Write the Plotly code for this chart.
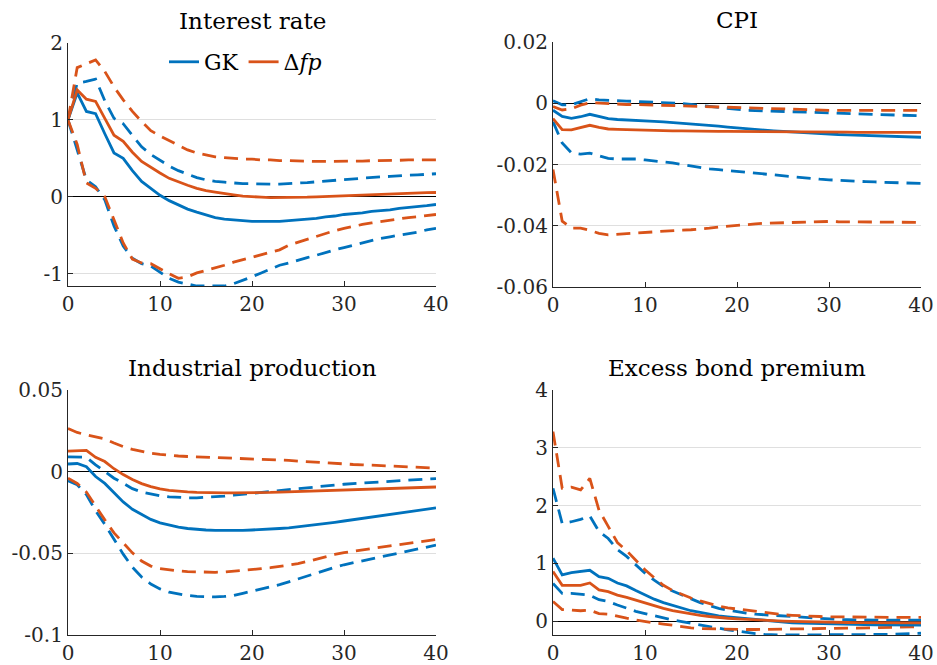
import plotly.graph_objects as go

# ---------------- data ----------------
horizon = list(range(41))

# Interest rate
ir_gk = [1.00, 1.35, 1.11, 1.08, 0.82, 0.57, 0.50, 0.34, 0.20, 0.11, 0.02, -0.05, -0.11, -0.16, -0.20, -0.24, -0.27,
         -0.29, -0.30, -0.31, -0.32, -0.32, -0.32, -0.32, -0.31, -0.30, -0.29, -0.28, -0.26, -0.25, -0.23, -0.22,
         -0.21, -0.19, -0.18, -0.17, -0.15, -0.14, -0.13, -0.115, -0.10]
ir_fp = [1.00, 1.39, 1.27, 1.24, 1.02, 0.80, 0.72, 0.58, 0.46, 0.38, 0.31, 0.24, 0.19, 0.15, 0.11, 0.08, 0.06, 0.04,
         0.025, 0.01, 0.0, -0.005, -0.01, -0.01, -0.01, -0.01, -0.005, 0.0, 0.005, 0.01, 0.015, 0.02, 0.025, 0.03,
         0.035, 0.04, 0.043, 0.047, 0.05, 0.053, 0.056]
ir_gk_hi = [1.00, 1.48, 1.50, 1.53, 1.25, 1.02, 0.95, 0.80, 0.65, 0.55, 0.47, 0.40, 0.34, 0.29, 0.25, 0.22, 0.20, 0.19,
            0.18, 0.17, 0.17, 0.165, 0.165, 0.165, 0.17, 0.175, 0.185, 0.195, 0.205, 0.215, 0.225, 0.23, 0.24, 0.25,
            0.26, 0.265, 0.275, 0.28, 0.285, 0.29, 0.30]
ir_gk_lo = [1.00, 0.60, 0.22, 0.13, -0.04, -0.38, -0.64, -0.80, -0.87, -0.90, -0.98, -1.06, -1.11, -1.14, -1.16,
            -1.16, -1.16, -1.16, -1.13, -1.09, -1.04, -0.99, -0.94, -0.89, -0.86, -0.82, -0.79, -0.76, -0.72, -0.69,
            -0.66, -0.63, -0.60, -0.57, -0.54, -0.52, -0.50, -0.48, -0.46, -0.43, -0.41]
ir_fp_hi = [1.00, 1.68, 1.73, 1.78, 1.63, 1.43, 1.26, 1.11, 0.98, 0.86, 0.79, 0.73, 0.66, 0.61, 0.57, 0.54, 0.52, 0.51,
            0.50, 0.49, 0.49, 0.48, 0.48, 0.47, 0.47, 0.465, 0.46, 0.46, 0.46, 0.46, 0.46, 0.46, 0.465, 0.47, 0.47,
            0.475, 0.475, 0.48, 0.48, 0.48, 0.48]
ir_fp_lo = [1.00, 0.68, 0.18, 0.11, 0.00, -0.30, -0.60, -0.81, -0.86, -0.87, -0.94, -1.00, -1.06, -1.04, -0.99, -0.96,
            -0.93, -0.89, -0.85, -0.82, -0.79, -0.76, -0.73, -0.69, -0.63, -0.59, -0.55, -0.51, -0.47, -0.44, -0.41,
            -0.38, -0.36, -0.34, -0.32, -0.30, -0.29, -0.27, -0.26, -0.245, -0.23]

# CPI
cpi_gk = [-0.0023, -0.0043, -0.0049, -0.0044, -0.0036, -0.0042, -0.0050, -0.0053, -0.0054, -0.0056, -0.0058, -0.0059,
          -0.0061, -0.0063, -0.0065, -0.0067, -0.0069, -0.0072, -0.0075, -0.0078, -0.0081, -0.0083, -0.0085, -0.0088,
          -0.0090, -0.0092, -0.0094, -0.0096, -0.0098, -0.0099, -0.0101, -0.0102, -0.0103, -0.0104, -0.0105, -0.0106,
          -0.0107, -0.0108, -0.0109, -0.0110, -0.0111]
cpi_fp = [-0.0050, -0.0086, -0.0087, -0.0080, -0.0072, -0.0079, -0.0084, -0.0085, -0.0086, -0.0088, -0.0089, -0.0090,
          -0.0090, -0.0090, -0.0090, -0.0091, -0.0091, -0.0091, -0.0092, -0.0092, -0.0092, -0.0092, -0.0093, -0.0093,
          -0.0093, -0.0093, -0.0093, -0.0094, -0.0094, -0.0094, -0.0094, -0.0094, -0.0094, -0.0095, -0.0095, -0.0095,
          -0.0095, -0.0095, -0.0095, -0.0095, -0.0095]
cpi_gk_hi = [0.0008, -0.0005, -0.0005, 0.0006, 0.0015, 0.0011, 0.0009, 0.0008, 0.0007, 0.0006, 0.0005, 0.0004, 0.0003,
             0.0001, -0.0001, -0.0004, -0.0007, -0.0010, -0.0014, -0.0018, -0.0021, -0.0023, -0.0024, -0.0025, -0.0026,
             -0.0028, -0.0029, -0.0030, -0.0031, -0.0032, -0.0033, -0.0034, -0.0035, -0.0036, -0.0036, -0.0037,
             -0.0038, -0.0039, -0.0039, -0.0040, -0.0041]
cpi_gk_lo = [-0.0060, -0.0130, -0.0162, -0.0166, -0.0163, -0.0172, -0.0180, -0.0182, -0.0181, -0.0182, -0.0185,
             -0.0188, -0.0191, -0.0195, -0.0200, -0.0205, -0.0210, -0.0214, -0.0217, -0.0220, -0.0223, -0.0226,
             -0.0229, -0.0232, -0.0235, -0.0237, -0.0240, -0.0243, -0.0246, -0.0248, -0.0250, -0.0252, -0.0254,
             -0.0255, -0.0256, -0.0257, -0.0258, -0.0259, -0.0260, -0.0261, -0.0262]
cpi_fp_hi = [-0.0011, -0.0022, -0.0018, -0.0006, 0.0002, 0.0000, -0.0002, -0.0003, -0.0004, -0.0004, -0.0005, -0.0006,
             -0.0006, -0.0007, -0.0007, -0.0008, -0.0009, -0.0010, -0.0011, -0.0012, -0.0013, -0.0015, -0.0016,
             -0.0017, -0.0018, -0.0020, -0.0021, -0.0021, -0.0022, -0.0022, -0.0023, -0.0023, -0.0023, -0.0023,
             -0.0023, -0.0023, -0.0023, -0.0023, -0.0023, -0.0023, -0.0023]
cpi_fp_lo = [-0.0216, -0.0385, -0.0408, -0.0408, -0.0415, -0.0425, -0.0430, -0.0428, -0.0424, -0.0422, -0.0420,
             -0.0418, -0.0417, -0.0415, -0.0414, -0.0413, -0.0411, -0.0408, -0.0404, -0.0401, -0.0398, -0.0396,
             -0.0394, -0.0392, -0.0391, -0.0390, -0.0389, -0.0388, -0.0387, -0.0387, -0.0386, -0.0387, -0.0387,
             -0.0388, -0.0388, -0.0388, -0.0389, -0.0389, -0.0389, -0.0389, -0.0389]

# Industrial production
ip_gk = [0.0047, 0.0050, 0.0030, -0.0030, -0.0072, -0.0130, -0.0185, -0.0230, -0.0263, -0.0292, -0.0313, -0.0328,
         -0.0340, -0.0348, -0.0354, -0.0357, -0.0359, -0.0360, -0.0360, -0.0359, -0.0357, -0.0355, -0.0352, -0.0348,
         -0.0344, -0.0338, -0.0332, -0.0325, -0.0318, -0.0310, -0.0302, -0.0294, -0.0286, -0.0278, -0.0270, -0.0262,
         -0.0254, -0.0246, -0.0238, -0.0230, -0.0222]
ip_fp = [0.0126, 0.0126, 0.0130, 0.0088, 0.0062, 0.0018, -0.0018, -0.0048, -0.0073, -0.0092, -0.0106, -0.0114, -0.0120,
         -0.0124, -0.0127, -0.0129, -0.0130, -0.0130, -0.0130, -0.0130, -0.0129, -0.0128, -0.0127, -0.0125, -0.0123,
         -0.0121, -0.0119, -0.0117, -0.0115, -0.0113, -0.0111, -0.0109, -0.0107, -0.0105, -0.0103, -0.0101, -0.0099,
         -0.0098, -0.0096, -0.0095, -0.0094]
ip_gk_hi = [0.0091, 0.0091, 0.0088, 0.0042, 0.0000, -0.0040, -0.0071, -0.0104, -0.0124, -0.0138, -0.0148, -0.0154,
            -0.0158, -0.0160, -0.0160, -0.0158, -0.0155, -0.0150, -0.0144, -0.0138, -0.0132, -0.0126, -0.0120, -0.0114,
            -0.0108, -0.0102, -0.0097, -0.0092, -0.0087, -0.0082, -0.0077, -0.0073, -0.0069, -0.0065, -0.0061, -0.0057,
            -0.0054, -0.0051, -0.0048, -0.0045, -0.0042]
ip_gk_lo = [-0.0055, -0.0080, -0.0140, -0.0240, -0.0322, -0.0415, -0.0505, -0.0585, -0.0645, -0.0688, -0.0718, -0.0738,
            -0.0750, -0.0758, -0.0763, -0.0766, -0.0767, -0.0764, -0.0758, -0.0745, -0.0732, -0.0720, -0.0707, -0.0692,
            -0.0675, -0.0657, -0.0638, -0.0619, -0.0600, -0.0585, -0.0570, -0.0558, -0.0547, -0.0535, -0.0523, -0.0512,
            -0.0500, -0.0487, -0.0475, -0.0462, -0.0450]
ip_fp_hi = [0.0264, 0.0240, 0.0225, 0.0213, 0.0200, 0.0175, 0.0153, 0.0137, 0.0123, 0.0113, 0.0106, 0.0100, 0.0096,
            0.0093, 0.0091, 0.0089, 0.0087, 0.0086, 0.0085, 0.0083, 0.0081, 0.0078, 0.0075, 0.0072, 0.0069, 0.0065,
            0.0061, 0.0057, 0.0053, 0.0049, 0.0046, 0.0044, 0.0042, 0.0040, 0.0038, 0.0036, 0.0033, 0.0030, 0.0027,
            0.0025, 0.0022]
ip_fp_lo = [-0.0040, -0.0072, -0.0125, -0.0213, -0.0295, -0.0375, -0.0437, -0.0497, -0.0547, -0.0578, -0.0593, -0.0602,
            -0.0608, -0.0612, -0.0614, -0.0615, -0.0616, -0.0614, -0.0610, -0.0605, -0.0600, -0.0594, -0.0588, -0.0581,
            -0.0573, -0.0563, -0.0550, -0.0535, -0.0520, -0.0507, -0.0496, -0.0487, -0.0478, -0.0469, -0.0461, -0.0454,
            -0.0447, -0.0440, -0.0432, -0.0424, -0.0416]

# Excess bond premium
ebp_gk = [1.09, 0.80, 0.84, 0.86, 0.88, 0.77, 0.74, 0.66, 0.61, 0.53, 0.45, 0.38, 0.32, 0.27, 0.22, 0.18, 0.15, 0.12,
          0.09, 0.075, 0.06, 0.04, 0.02, 0.005, -0.01, -0.02, -0.03, -0.035, -0.04, -0.045, -0.05, -0.053, -0.056,
          -0.059, -0.062, -0.065, -0.066, -0.067, -0.068, -0.069, -0.07]
ebp_fp = [0.86, 0.62, 0.62, 0.62, 0.66, 0.54, 0.51, 0.45, 0.41, 0.36, 0.31, 0.26, 0.22, 0.18, 0.15, 0.12, 0.10, 0.08,
          0.06, 0.05, 0.04, 0.03, 0.02, 0.01, 0.005, 0.0, -0.005, -0.01, -0.013, -0.016, -0.02, -0.022, -0.024, -0.026,
          -0.028, -0.03, -0.03, -0.03, -0.03, -0.03, -0.03]
ebp_gk_hi = [2.30, 1.69, 1.72, 1.76, 1.82, 1.55, 1.43, 1.24, 1.12, 0.97, 0.83, 0.71, 0.60, 0.52, 0.45, 0.38, 0.32, 0.27,
             0.22, 0.19, 0.16, 0.14, 0.12, 0.11, 0.10, 0.09, 0.075, 0.06, 0.05, 0.04, 0.035, 0.03, 0.025, 0.02, 0.018,
             0.017, 0.017, 0.017, 0.017, 0.017, 0.017]
ebp_gk_lo = [0.65, 0.48, 0.48, 0.47, 0.45, 0.37, 0.34, 0.28, 0.22, 0.17, 0.13, 0.09, 0.06, 0.02, -0.01, -0.04, -0.07,
             -0.10, -0.13, -0.15, -0.17, -0.195, -0.215, -0.23, -0.24, -0.24, -0.24, -0.24, -0.24, -0.24, -0.24, -0.24,
             -0.24, -0.24, -0.238, -0.235, -0.23, -0.225, -0.22, -0.215, -0.21]
ebp_fp_hi = [3.28, 2.30, 2.32, 2.27, 2.47, 1.92, 1.64, 1.36, 1.22, 1.06, 0.89, 0.75, 0.62, 0.53, 0.46, 0.40, 0.35, 0.30,
             0.26, 0.23, 0.21, 0.18, 0.16, 0.14, 0.12, 0.11, 0.10, 0.09, 0.085, 0.08, 0.075, 0.072, 0.07, 0.068, 0.066,
             0.065, 0.064, 0.064, 0.064, 0.064, 0.064]
ebp_fp_lo = [0.34, 0.20, 0.19, 0.18, 0.19, 0.13, 0.12, 0.08, 0.05, 0.02, -0.01, -0.03, -0.05, -0.075, -0.10, -0.115,
             -0.13, -0.135, -0.14, -0.145, -0.145, -0.145, -0.145, -0.14, -0.14, -0.14, -0.135, -0.135, -0.13, -0.13,
             -0.13, -0.125, -0.12, -0.12, -0.115, -0.11, -0.11, -0.105, -0.10, -0.10, -0.10]

titles = ["Interest rate", "CPI", "Industrial production", "Excess bond premium"]
series_names = ["GK", "Δ<i>fp</i>"]
x_ticks = [0, 10, 20, 30, 40]
y_ticks = [[-1, 0, 1, 2], [-0.06, -0.04, -0.02, 0, 0.02], [-0.1, -0.05, 0, 0.05], [0, 1, 2, 3, 4]]
y_ticktext = [["-1", "0", "1", "2"], ["-0.06", "-0.04", "-0.02", "0", "0.02"],
              ["-0.1", "-0.05", "0", "0.05"], ["0", "1", "2", "3", "4"]]
y_ranges = [[-1.16, 2], [-0.06, 0.02], [-0.1, 0.05], [-0.24, 4]]

panel_data = [
    (ir_gk, ir_gk_hi, ir_gk_lo, ir_fp, ir_fp_hi, ir_fp_lo),
    (cpi_gk, cpi_gk_hi, cpi_gk_lo, cpi_fp, cpi_fp_hi, cpi_fp_lo),
    (ip_gk, ip_gk_hi, ip_gk_lo, ip_fp, ip_fp_hi, ip_fp_lo),
    (ebp_gk, ebp_gk_hi, ebp_gk_lo, ebp_fp, ebp_fp_hi, ebp_fp_lo),
]

# ---------------- style / layout ----------------
W, H = 937, 665
BLUE = "#0072BD"
ORANGE = "#D95319"
AXC = "#262626"
FONT = "DejaVu Serif"
LW = 2.8
DASH = "14px,8px"

# plot-area boxes in pixels (left, right, top, bottom)
boxes = [(68, 436, 43, 286), (553, 921, 42, 287), (68, 436, 390, 635), (553, 921, 390, 635)]

fig = go.Figure()
layout = dict(
    template="none",
    width=W, height=H, margin=dict(l=0, r=0, t=0, b=0, pad=0, autoexpand=False),
    paper_bgcolor="white", plot_bgcolor="white",
    font=dict(family=FONT, size=20, color=AXC),
    showlegend=True,
    legend=dict(orientation="h", x=164 / W, y=1 - 41 / H, xanchor="left", yanchor="top",
                bgcolor="rgba(0,0,0,0)", font=dict(family=FONT, size=22, color="black"),
                itemwidth=30, tracegroupgap=0),
    annotations=[],
)

for i, (data, box) in enumerate(zip(panel_data, boxes)):
    k = "" if i == 0 else str(i + 1)
    xa, ya = "x" + k, "y" + k
    gk, gk_hi, gk_lo, fp, fp_hi, fp_lo = data
    for yv, col in [(gk_hi, BLUE), (gk_lo, BLUE), (fp_hi, ORANGE), (fp_lo, ORANGE)]:
        fig.add_trace(go.Scatter(x=horizon, y=yv, mode="lines", xaxis=xa, yaxis=ya, showlegend=False,
                                 line=dict(color=col, width=LW, dash=DASH), hoverinfo="skip"))
    for yv, col, nm in [(gk, BLUE, series_names[0]), (fp, ORANGE, series_names[1])]:
        fig.add_trace(go.Scatter(x=horizon, y=yv, mode="lines", xaxis=xa, yaxis=ya, name=nm,
                                 showlegend=(i == 0), line=dict(color=col, width=LW)))
    l, r, t, b = box
    layout["xaxis" + k] = dict(
        domain=[l / W, r / W], anchor=ya, range=[0, 40], tickvals=x_ticks, automargin=False,
        showgrid=False, zeroline=False, showline=True, linecolor=AXC, linewidth=1.2,
        ticks="inside", ticklen=5, tickcolor=AXC, tickfont=dict(family=FONT, size=20, color=AXC))
    layout["yaxis" + k] = dict(
        domain=[1 - b / H, 1 - t / H], anchor=xa, range=y_ranges[i], automargin=False,
        tickvals=y_ticks[i], ticktext=y_ticktext[i],
        showgrid=True, gridcolor="#dfdfdf", gridwidth=1,
        zeroline=True, zerolinecolor="black", zerolinewidth=1,
        showline=True, linecolor=AXC, linewidth=1.2,
        ticks="inside", ticklen=5, tickcolor=AXC, tickfont=dict(family=FONT, size=20, color=AXC))
    layout["annotations"].append(dict(
        text=titles[i], xref="paper", yref="paper", x=(l + r) / 2 / W, y=1 - (t - 22) / H,
        xanchor="center", yanchor="middle", showarrow=False,
        font=dict(family=FONT, size=23, color="black")))

fig.update_layout(**layout)
fig.write_html("out.html")
